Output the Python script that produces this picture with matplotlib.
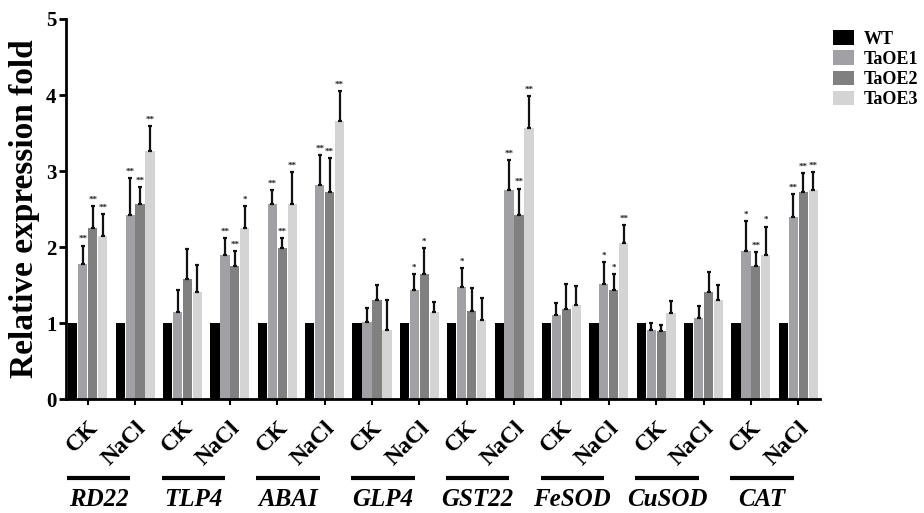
import matplotlib
matplotlib.use("Agg")
import matplotlib.pyplot as plt
import matplotlib.transforms as mtransforms
import numpy as np

genes = ["RD22", "TLP4", "ABAI", "GLP4", "GST22", "FeSOD", "CuSOD", "CAT"]
conditions = ["CK", "NaCl"]
series = ["WT", "TaOE1", "TaOE2", "TaOE3"]
colors = ["#000000", "#a1a1a5", "#808080", "#d4d4d4"]

# order: RD22 CK, RD22 NaCl, TLP4 CK, ...
wt = [1.0] * 16
taoe1 = [1.78, 2.42, 1.15, 1.89, 2.56, 2.82, 1.01, 1.44, 1.48, 2.75, 1.11, 1.52, 0.91, 1.07, 1.95, 2.39]
taoe2 = [2.25, 2.56, 1.58, 1.75, 1.99, 2.72, 1.31, 1.65, 1.16, 2.42, 1.18, 1.44, 0.89, 1.41, 1.75, 2.72]
taoe3 = [2.15, 3.26, 1.41, 2.25, 2.56, 3.66, 0.91, 1.15, 1.04, 3.56, 1.24, 2.05, 1.13, 1.31, 1.89, 2.75]
err1 = [0.24, 0.49, 0.29, 0.23, 0.19, 0.39, 0.19, 0.20, 0.24, 0.40, 0.16, 0.28, 0.09, 0.15, 0.39, 0.31]
err2 = [0.29, 0.23, 0.40, 0.20, 0.13, 0.45, 0.19, 0.34, 0.30, 0.35, 0.34, 0.20, 0.09, 0.26, 0.19, 0.25]
err3 = [0.29, 0.33, 0.35, 0.29, 0.43, 0.39, 0.39, 0.13, 0.29, 0.43, 0.25, 0.24, 0.16, 0.19, 0.38, 0.24]
sig1 = ["**", "**", "", "**", "**", "**", "", "*", "*", "**", "", "*", "", "", "*", "**"]
sig2 = ["**", "**", "", "**", "**", "**", "", "*", "", "**", "", "*", "", "", "**", "**"]
sig3 = ["**", "**", "", "*", "**", "**", "", "", "", "**", "", "**", "", "", "*", "**"]

values = [wt, taoe1, taoe2, taoe3]
errs = [None, err1, err2, err3]
sigs = [None, sig1, sig2, sig3]

plt.rcParams['font.family'] = ['Liberation Serif', 'DejaVu Serif']
plt.rcParams['font.weight'] = 'bold'

fig = plt.figure(figsize=(9.24, 5.13), dpi=100)
ax = fig.add_axes([0.0714, 0.222, 0.8156, 0.741])

x = np.arange(16)
pitch = 0.21
width = 0.195
for k, (vals, col, name) in enumerate(zip(values, colors, series)):
    xs = x + (k - 1.5) * pitch
    ax.bar(xs, vals, width=width, color=col, edgecolor='none', label=name, zorder=2)
    if errs[k] is not None:
        e = np.array(errs[k])
        ax.errorbar(xs, vals, yerr=[np.zeros_like(e), e], fmt='none', ecolor='#111111',
                    elinewidth=1.6, capsize=1.6, capthick=1.6, zorder=3)
        for xi, v, ei, s in zip(xs, vals, e, sigs[k]):
            if s:
                ax.text(xi, v + ei + 0.03, s, ha='center', va='bottom', fontsize=6.5,
                        fontweight='bold', color='#222222')

ax.set_xlim(-0.46, 15.45)
ax.set_ylim(0, 5)
ax.set_yticks([0, 1, 2, 3, 4, 5])
ax.set_yticklabels(["0", "1", "2", "3", "4", "5"], fontsize=15, fontweight='bold')
ax.set_ylabel("Relative expression fold", fontsize=24, fontweight='bold', labelpad=4)

ax.set_xticks(x)
ax.set_xticklabels(conditions * 8, rotation=45, ha='right', rotation_mode='anchor',
                   fontsize=17, fontweight='bold')
ax.tick_params(axis='x', length=4, width=1.5, pad=9)
ax.tick_params(axis='y', length=5, width=2, pad=2)
for sp in ['top', 'right']:
    ax.spines[sp].set_visible(False)
for sp in ['left', 'bottom']:
    ax.spines[sp].set_linewidth(2)

trans = mtransforms.blended_transform_factory(ax.transData, fig.transFigure)
for g, gene in enumerate(genes):
    i = 2 * g
    x0, x1 = i - 0.44, i + 1 - 0.1
    ax.plot([x0, x1], [1 - 478 / 513, 1 - 478 / 513], color='black', lw=3,
            transform=trans, clip_on=False, solid_capstyle='butt')
    ax.text((x0 + x1) / 2, 1 - 500 / 513, gene, transform=trans, ha='center', va='center',
            fontsize=18, fontweight='bold', style='italic')

leg = fig.legend(loc='upper left', bbox_to_anchor=(0.894, 0.955), frameon=False,
                 prop={'size': 13, 'weight': 'bold'}, handlelength=1.17, handleheight=0.85,
                 handletextpad=0.5, labelspacing=0.15, borderaxespad=0)

fig.savefig("out.png", dpi=100)
